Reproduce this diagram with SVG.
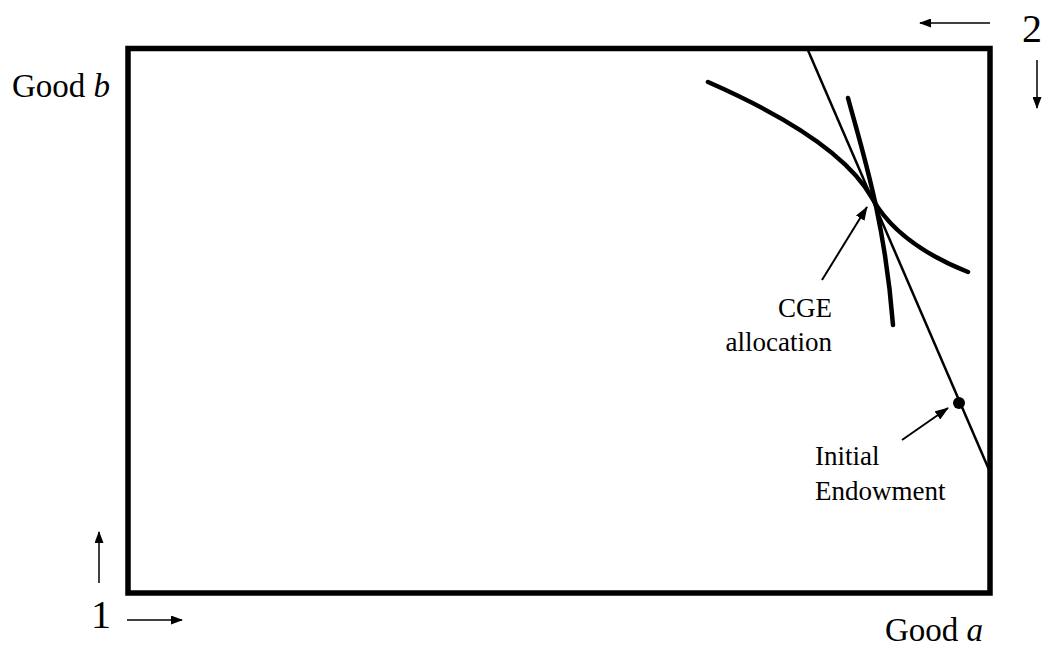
<svg xmlns="http://www.w3.org/2000/svg" width="1050" height="646" viewBox="0 0 1050 646">
<style>
text{font-family:"Liberation Serif","Times New Roman",serif;fill:#000}
.lbl{font-size:27px}
.ax{font-size:33px}
.num{font-size:40px}
.curve{fill:none;stroke:#000;stroke-width:4.5;stroke-linecap:round}
.ptr{stroke:#000;stroke-width:2;fill:none}
.dir{stroke:#000;stroke-width:1.5;fill:none}
</style>
<defs>
<marker id="ah" markerUnits="userSpaceOnUse" markerWidth="14" markerHeight="10" refX="13" refY="5" orient="auto">
<path d="M0,0 L14,5 L0,10 z" fill="#000"/>
</marker>
<marker id="ahs" markerUnits="userSpaceOnUse" markerWidth="12" markerHeight="9" refX="11" refY="4.5" orient="auto">
<path d="M0,0 L12,4.5 L0,9 z" fill="#000"/>
</marker>
</defs>
<rect width="1050" height="646" fill="#fff"/>
<g id="box">
<rect x="128" y="48.5" width="862" height="544.5" fill="none" stroke="#000" stroke-width="5.5"/>
</g>
<g id="budget-line">
<line x1="807" y1="48" x2="990" y2="472" stroke="#000" stroke-width="2.5"/>
</g>
<g id="indifference-1">
<path class="curve" d="M708,82 Q840,140 872,198 Q897.6,244 968,272"/>
</g>
<g id="indifference-2">
<path class="curve" d="M848,98 C862,150 885,220 893,325"/>
</g>
<g id="endowment">
<circle cx="959" cy="403" r="6" fill="#000"/>
</g>
<g id="connectors">
<line class="ptr" x1="822" y1="280" x2="867" y2="207" marker-end="url(#ah)"/>
<line class="ptr" x1="902" y1="440" x2="948" y2="408" marker-end="url(#ah)"/>
<line class="dir" x1="99" y1="583" x2="99" y2="532" marker-end="url(#ahs)"/>
<line class="dir" x1="127" y1="620" x2="182" y2="620" marker-end="url(#ahs)"/>
<line class="dir" x1="990" y1="23" x2="920" y2="23" marker-end="url(#ahs)"/>
<line class="dir" x1="1037" y1="60" x2="1037" y2="108" marker-end="url(#ahs)"/>
</g>
<g id="labels">
<text class="ax" x="12" y="97">Good <tspan font-style="italic">b</tspan></text>
<text class="ax" x="885" y="641">Good <tspan font-style="italic">a</tspan></text>
<text class="num" x="91" y="628">1</text>
<text class="num" x="1022" y="42">2</text>
<text class="lbl" x="832" y="317" text-anchor="end">CGE</text>
<text class="lbl" x="832" y="351" text-anchor="end">allocation</text>
<text class="lbl" x="815" y="465">Initial</text>
<text class="lbl" x="815" y="500">Endowment</text>
</g>
</svg>
